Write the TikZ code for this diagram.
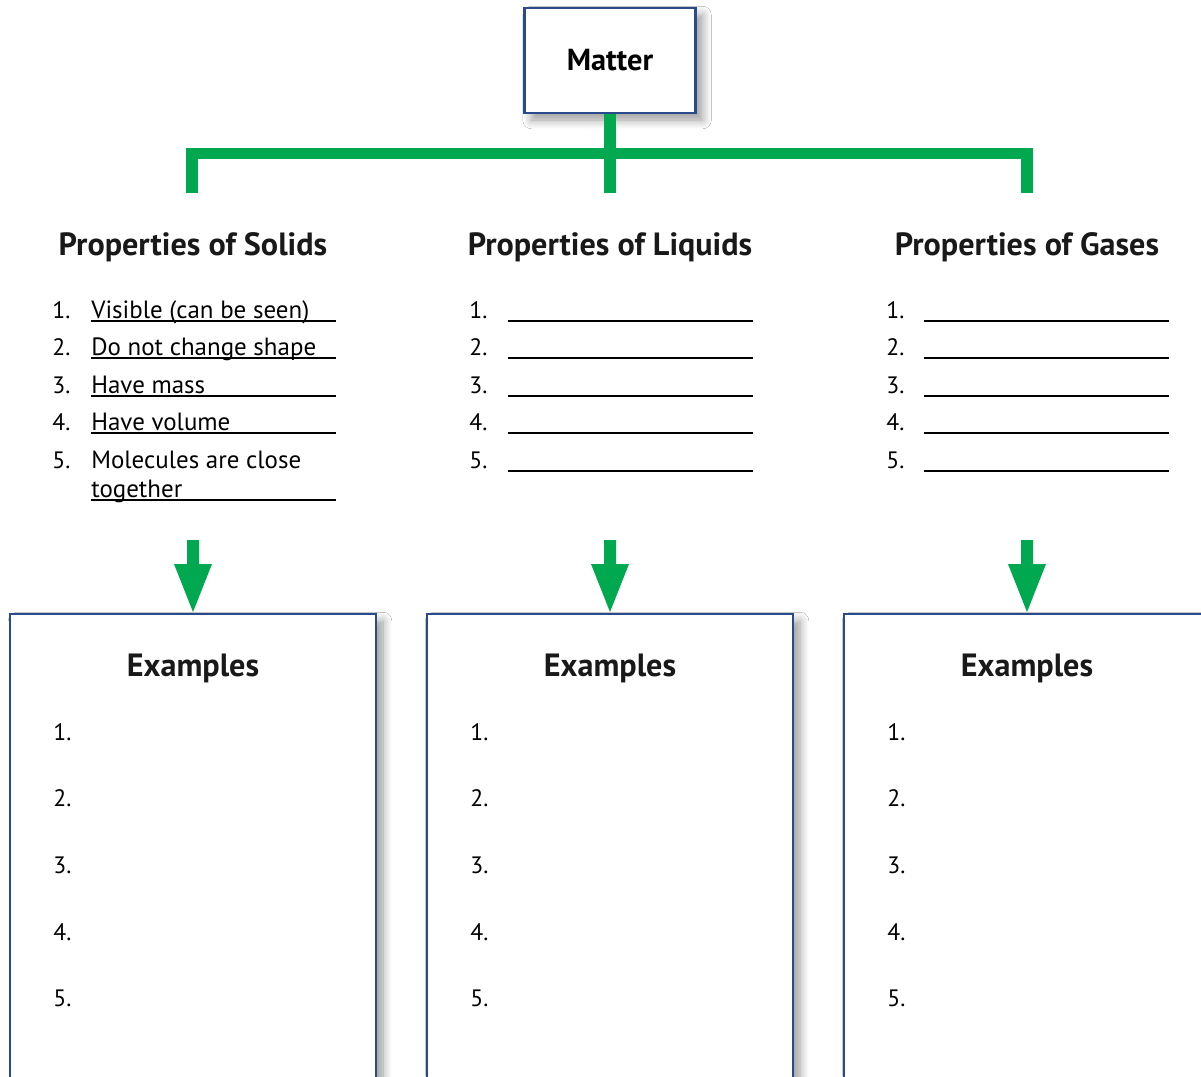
\documentclass[tikz,border=0pt]{standalone}
\usepackage{fontspec}
\setmainfont{PT Sans}
\usetikzlibrary{shadows.blur}
\definecolor{gr}{HTML}{00A84F}
\definecolor{bl}{HTML}{2B4A8C}
\begin{document}
\begin{tikzpicture}[x=0.02cm,y=-0.02cm,
  frame/.style={draw=bl,line width=1.3pt,fill=white,blur shadow={shadow xshift=4pt,shadow yshift=-4pt,shadow blur radius=5pt,shadow blur steps=10,shadow opacity=40}},
  head/.style={font=\fontsize{18.3}{21}\selectfont\bfseries,text=black!90},
  num/.style={anchor=base west,inner sep=0pt,font=\fontsize{13.5}{16}\selectfont},
  item/.style={anchor=base west,inner sep=0pt,font=\fontsize{14.2}{17}\selectfont},
  uline/.style={line width=0.6pt},
  bar/.style={draw=gr,line width=6.8pt},
  arr/.style={fill=gr}]
\useasboundingbox (0,0) rectangle (1201,1076);
\fill[white] (0,0) rectangle (1201,1076);
% Matter
\node[frame,minimum width=3.42cm,minimum height=2.1cm,inner sep=0pt,font=\fontsize{17.3}{20}\selectfont\bfseries] (matter) at (610,60.5) {Matter};
% bracket
\coordinate (bs) at (192,193);
\coordinate (bl) at (1027,193);
\coordinate (bm) at (610,193);
\draw[bar] (bs) -- (192,153.5) -- (1027,153.5) -- (bl);
\draw[bar] (matter.south) -- (bm);
% headings
\node[head] (hs) at (193,247) {Properties of Solids};
\node[head] (hl) at (610,247) {Properties of Liquids};
\node[head] (hg) at (1027,247) {Properties of Gases};
% lists
\foreach \i/\y in {1/318,2/355,3/393,4/430,5/468}{
  \node[num] (sn\i) at (52,\y) {\i.};
  \node[num] (ln\i) at (469,\y) {\i.};
  \node[num] (gn\i) at (886,\y) {\i.};
  \draw[uline] (508,\y+3) -- (753,\y+3);
  \draw[uline] (924,\y+3) -- (1169,\y+3);
}
\node[item] (s1) at (91,318) {Visible (can be seen)};
\node[item] (s2) at (91,355) {Do not change shape};
\node[item] (s3) at (91,393) {Have mass};
\node[item] (s4) at (91,430) {Have volume};
\node[item] (s5) at (91,468) {Molecules are close};
\node[item] (s6) at (91,497) {together};
\foreach \y in {321,358,396,433,500}{\draw[uline] (91,\y) -- (336,\y);}
% example boxes
\foreach \x/\c/\n in {10/193/a,427/610/b,844/1027/c}{
  \draw[frame] (\x,614) rectangle (\x+366,1100);
  \node[head] (ex\n) at (\c,668) {Examples};
  \foreach \k/\y in {1/740,2/806,3/873,4/940,5/1006}{
    \node[num] (e\n\k) at (\x+43,\y) {\k.};
  }
  % arrow
  \fill[arr] (\c-6,540) -- (\c+6,540) -- (\c+6,564) -- (\c+19,564) -- (\c,612) -- (\c-19,564) -- (\c-6,564) -- cycle;
}
\end{tikzpicture}
\end{document}
